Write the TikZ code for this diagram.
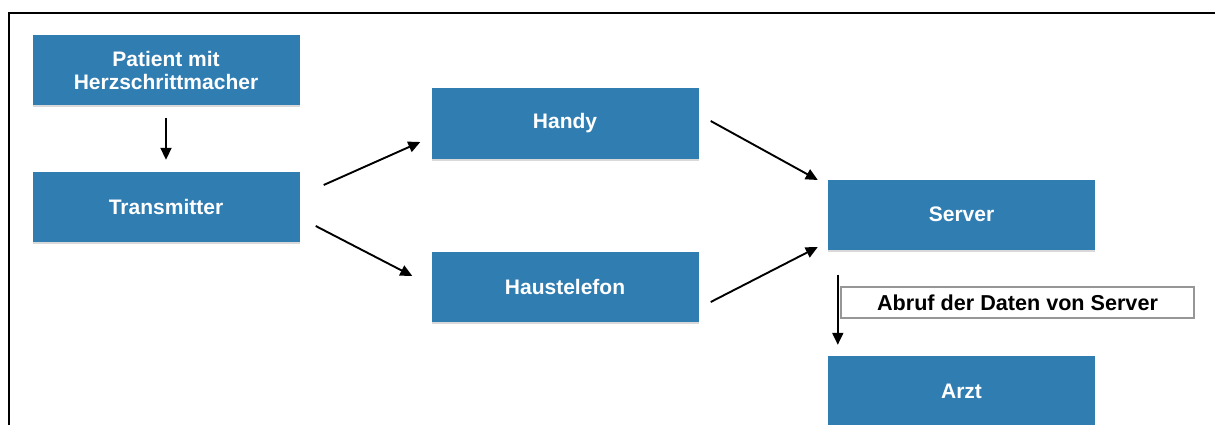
\documentclass[tikz,border=0pt]{standalone}
\usepackage{fontspec}
\setmainfont{Liberation Sans}
\usetikzlibrary{arrows.meta,calc,shadows}
\definecolor{boxblue}{RGB}{48,125,178}
\definecolor{labgray}{RGB}{150,150,150}
\tikzset{
  bluebox/.style={fill=boxblue, draw=none, text=white, font=\bfseries\fontsize{21}{22.5}\selectfont,
    align=center, inner sep=0pt, minimum width=267pt, minimum height=70pt,
    drop shadow={shadow xshift=0pt, shadow yshift=-2pt, fill=black, opacity=0.15}},
  labbox/.style={draw=labgray, line width=1.6pt, fill=white, text=black,
    font=\bfseries\fontsize{21.6}{23}\selectfont, inner sep=0pt, minimum width=353pt, minimum height=31pt},
  arr/.style={line width=1.9pt, -{Triangle[length=12pt,width=11pt]}},
  frameline/.style={line width=2pt, black}
}
\begin{document}
\begin{tikzpicture}[x=1pt,y=-1pt]
\useasboundingbox (0,0) rectangle (1215,425);
\clip (0,0) rectangle (1215,425);
\fill[white] (0,0) rectangle (1215,425);
\draw[frameline] (9,440) -- (9,13) -- (1220,13);

\node[bluebox] (patient) at (166,70.5) {Patient mit\\Herzschrittmacher};
\node[bluebox] (trans) at (166,207) {Transmitter};
\node[bluebox] (handy) at (565,123.5) {Handy};
\node[bluebox] (haus) at (565,286.5) {Haustelefon};
\node[bluebox] (server) at (961.5,214.5) {Server};
\node[bluebox] (arzt) at (961.5,391) {Arzt};
\node[labbox] (lab) at (1017.5,302.5) {Abruf der Daten von Server};

\draw[arr] ($(patient.south)+(0,12)$) -- ($(trans.north)+(0,-12)$);
\draw[arr] ($(trans.east)+(24,-22)$) -- ($(handy.west)+(-11,18.5)$);
\draw[arr] ($(trans.east)+(16,19)$) -- ($(haus.west)+(-19,-10.5)$);
\draw[arr] ($(handy.east)+(12,-2.5)$) -- ($(server.west)+(-10,-34.5)$);
\draw[arr] ($(haus.east)+(12,15.5)$) -- ($(server.west)+(-10,32.5)$);
\draw[arr] ($(server.south west)+(10,25)$) -- ($(arzt.north west)+(10,-11)$);
\end{tikzpicture}
\end{document}
